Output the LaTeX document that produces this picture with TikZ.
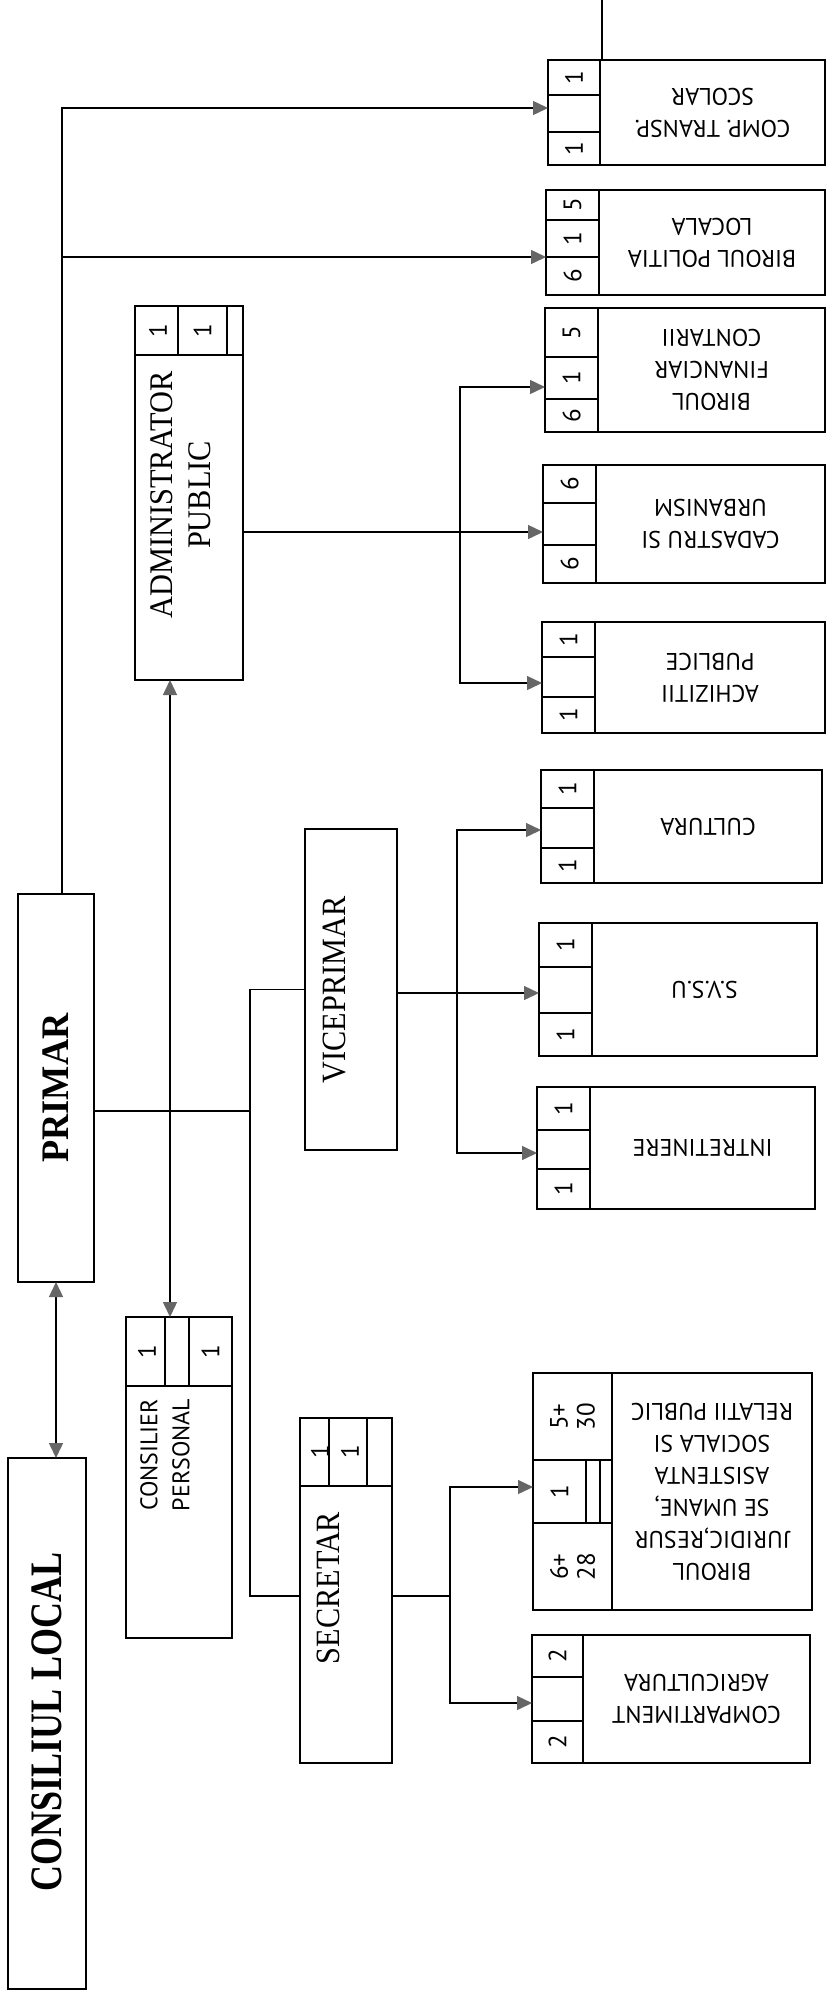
\documentclass[tikz,border=0pt]{standalone}
\usepackage{fontspec}
\setmainfont{Liberation Serif}
\newfontfamily\capf{PT Sans}
\usetikzlibrary{arrows.meta}
\begin{document}
\begin{tikzpicture}[x=1pt,y=-1pt,
  box/.style={draw, line width=1.5pt, rectangle, inner sep=0pt, outer sep=0pt},
  ln/.style={line width=1.4pt},
  mytip/.tip={Triangle[length=15pt,width=14pt,fill=black!60,color=black!60]},
  arr/.style={ln, -mytip},
  darr/.style={ln, mytip-mytip},
  numtxt/.style={font=\capf\fontsize{25}{27}\selectfont, rotate=90, inner sep=0pt, align=center},
  captxt/.style={font=\capf\fontsize{24}{32}\selectfont, rotate=180, inner sep=0pt, align=center},
  sertxt/.style={font=\fontsize{34}{38}\selectfont, rotate=90, inner sep=0pt, align=center},
  serbold/.style={font=\bfseries\fontsize{45}{50}\selectfont, rotate=90, inner sep=0pt, align=center}
]
\useasboundingbox (0,0) rectangle (826,1992);
\fill[white] (0,0) rectangle (826,1992);

% ---------- right column boxes ----------
% COMP TRANSP
\node[box, minimum width=277pt, minimum height=105pt] (COMP) at (686.5,112.5) {};
\draw[ln] (600,60) -- (600,165) (548,95) -- (600,95) (548,132) -- (600,132);
\node[numtxt] (cn1) at (574,77.5) {1};
\node[numtxt] (cn2) at (574,148.5) {1};
\node[captxt] (ccap) at (712.5,112.5) {COMP. TRANSP.\\SCOLAR};

% BIROUL POLITIA LOCALA
\node[box, minimum width=279pt, minimum height=105pt] (POL) at (685.5,242.5) {};
\draw[ln] (599,190) -- (599,295) (546,220) -- (599,220) (546,257) -- (599,257);
\node[numtxt] (pn1) at (572.5,205) {5};
\node[numtxt] (pn2) at (572.5,238.5) {1};
\node[numtxt] (pn3) at (572.5,276) {6};
\node[captxt] (pcap) at (712,242.5) {BIROUL POLITIA\\LOCALA};

% BIROUL FINANCIAR
\node[box, minimum width=280pt, minimum height=124pt] (FIN) at (685,370) {};
\draw[ln] (598,308) -- (598,432) (545,357) -- (598,357) (545,399) -- (598,399);
\node[numtxt] (fn1) at (571.5,332.5) {5};
\node[numtxt] (fn2) at (571.5,378) {1};
\node[numtxt] (fn3) at (571.5,415.5) {6};
\node[captxt] (fcap) at (711.5,370) {BIROUL\\FINANCIAR\\CONTARII};

% CADASTRU SI URBANISM
\node[box, minimum width=282pt, minimum height=118pt] (CAD) at (684,524) {};
\draw[ln] (596,465) -- (596,583) (543,503) -- (596,503) (543,545) -- (596,545);
\node[numtxt] (dn1) at (569.5,484) {6};
\node[numtxt] (dn2) at (569.5,564) {6};
\node[captxt] (dcap) at (710.5,524) {CADASTRU SI\\URBANISM};

% ACHIZITII PUBLICE
\node[box, minimum width=283pt, minimum height=111pt] (ACH) at (683.5,677.5) {};
\draw[ln] (595,622) -- (595,733) (542,657) -- (595,657) (542,697) -- (595,697);
\node[numtxt] (an1) at (568.5,639.5) {1};
\node[numtxt] (an2) at (568.5,715) {1};
\node[captxt] (acap) at (710,677.5) {ACHIZITII\\PUBLICE};

% CULTURA
\node[box, minimum width=281pt, minimum height=113pt] (CUL) at (681.5,826.5) {};
\draw[ln] (594,770) -- (594,883) (541,808) -- (594,808) (541,848) -- (594,848);
\node[numtxt] (un1) at (567.5,789) {1};
\node[numtxt] (un2) at (567.5,865.5) {1};
\node[captxt] (ucap) at (708,826.5) {CULTURA};

% S.V.S.U
\node[box, minimum width=278pt, minimum height=133pt] (SVSU) at (678,989.5) {};
\draw[ln] (592,923) -- (592,1056) (539,967) -- (592,967) (539,1013) -- (592,1013);
\node[numtxt] (sn1) at (565.5,945) {1};
\node[numtxt] (sn2) at (565.5,1034.5) {1};
\node[captxt] (scap) at (704.5,989.5) {S.V.S.U};

% INTRETINERE
\node[box, minimum width=278pt, minimum height=122pt] (INT) at (676,1148) {};
\draw[ln] (590,1087) -- (590,1209) (537,1130) -- (590,1130) (537,1169) -- (590,1169);
\node[numtxt] (in1) at (563.5,1108.5) {1};
\node[numtxt] (in2) at (563.5,1189) {1};
\node[captxt] (icap) at (702.5,1148) {INTRETINERE};

% BIROUL JURIDIC
\node[box, minimum width=279pt, minimum height=237pt] (JUR) at (672.5,1491.5) {};
\draw[ln] (612,1373) -- (612,1610) (533,1460) -- (612,1460) (533,1523) -- (612,1523)
          (586,1460) -- (586,1523) (600,1460) -- (600,1523);
\node[numtxt] (jn1) at (572.5,1416.5) {5+\\30};
\node[numtxt] (jn2) at (559.5,1491.5) {1};
\node[numtxt] (jn3) at (572.5,1566.5) {6+\\28};
\node[captxt] (jcap) at (712,1491.5) {BIROUL\\JURIDIC,RESUR\\SE UMANE,\\ASISTENTA\\SOCIALA SI\\RELATII PUBLIC};

% COMPARTIMENT AGRICULTURA
\node[box, minimum width=278pt, minimum height=128pt] (AGR) at (671,1699) {};
\draw[ln] (583,1635) -- (583,1763) (532,1677) -- (583,1677) (532,1721) -- (583,1721);
\node[numtxt] (gn1) at (557.5,1656) {2};
\node[numtxt] (gn2) at (557.5,1742) {2};
\node[captxt] (gcap) at (696.5,1699) {COMPARTIMENT\\AGRICULTURA};

% ---------- left / middle boxes ----------
% ADMINISTRATOR PUBLIC
\node[box, minimum width=108pt, minimum height=374pt] (ADM) at (189,493) {};
\draw[ln] (135,355) -- (243,355) (178,306) -- (178,355) (227,306) -- (227,355);
\node[numtxt] (mn1) at (158,330.5) {1};
\node[numtxt] (mn2) at (202.5,330.5) {1};
\node[sertxt, font=\fontsize{33}{38}\selectfont] (mcap) at (184,495)
  {\scalebox{0.92}[1]{\begin{tabular}{@{}c@{}}ADMINISTRATOR\\PUBLIC\end{tabular}}};

% VICEPRIMAR
\node[box, minimum width=92pt, minimum height=321pt] (VICE) at (351,989.5) {};
\node[sertxt] (vcap) at (334,990) {\scalebox{0.89}[1]{VICEPRIMAR}};

% SECRETAR
\node[box, minimum width=92pt, minimum height=345pt] (SEC) at (346,1590.5) {};
\draw[ln] (300,1486) -- (392,1486) (329,1418) -- (329,1486) (367,1418) -- (367,1486);
\node[numtxt] (en1) at (320,1452) {1};
\node[numtxt] (en2) at (350,1452) {1};
\node[sertxt] (ecap) at (328,1588) {\scalebox{0.89}[1]{SECRETAR}};

% PRIMAR
\node[box, minimum width=76pt, minimum height=388pt] (PRI) at (56,1088) {};
\node[serbold, font=\bfseries\fontsize{39}{44}\selectfont] (rcap) at (56,1088) {\scalebox{0.93}[1]{PRIMAR}};

% CONSILIER PERSONAL
\node[box, minimum width=106pt, minimum height=321pt] (CP) at (179,1477.5) {};
\draw[ln] (126,1386) -- (232,1386) (165,1317) -- (165,1386) (189,1317) -- (189,1386);
\node[numtxt] (on1) at (147,1351.5) {1};
\node[numtxt] (on2) at (210.5,1351.5) {1};
\node[captxt, rotate=-90] (ocap) at (165,1455) {CONSILIER\\PERSONAL};

% CONSILIUL LOCAL
\node[box, minimum width=78pt, minimum height=531pt] (CL) at (47,1723.5) {};
\node[serbold] (lcap) at (47,1722) {\scalebox{0.8}[1]{CONSILIUL LOCAL}};

% ---------- connectors ----------
\coordinate (trunk) at ([xshift=6pt]PRI.north);
\coordinate (compIn) at ([yshift=4.5pt]COMP.west);
\coordinate (polIn) at ([yshift=-14.5pt]POL.west);
\draw[arr] (trunk) |- (compIn);
\draw[arr] (trunk |- polIn) -- (polIn);
\coordinate (stubTop) at (602,0);
\draw[ln] (stubTop |- COMP.north) -- (stubTop);

% primar to viceprimar and secretar
\coordinate (pR) at ([yshift=-23pt]PRI.east);
\coordinate (busx) at (250,0);
\coordinate (secL) at ([yshift=-5.5pt]SEC.west);
\draw[ln] (pR) -- (pR -| busx);
\draw[ln] (VICE.west) -- (VICE.west -| busx) -- (secL -| busx) -- (secL);

% consiliu local - primar ; administrator - consilier
\draw[darr] (PRI.south) -- (PRI.south |- CL.north);
\draw[darr] ([xshift=-19pt]ADM.south) -- ([xshift=-9pt]CP.north);

% administrator to compartments
\coordinate (cadIn) at ([yshift=-8pt]CAD.west);
\coordinate (finIn) at ([yshift=-17pt]FIN.west);
\coordinate (achIn) at ([yshift=-5.5pt]ACH.west);
\coordinate (abx) at (460,0);
\draw[arr] (cadIn -| ADM.east) -- (cadIn);
\draw[arr] (cadIn -| abx) |- (finIn);
\draw[arr] (cadIn -| abx) |- (achIn);

% viceprimar to compartments
\coordinate (svIn) at ([yshift=-3.5pt]SVSU.west);
\coordinate (culIn) at ([yshift=-3.5pt]CUL.west);
\coordinate (intIn) at ([yshift=-5pt]INT.west);
\coordinate (vbx) at (457,0);
\draw[arr] (svIn -| VICE.east) -- (svIn);
\draw[arr] (svIn -| vbx) |- (culIn);
\draw[arr] (svIn -| vbx) |- (intIn);

% secretar to compartments
\coordinate (secR) at ([yshift=-5.5pt]SEC.east);
\coordinate (jurIn) at ([yshift=4.5pt]JUR.west);
\coordinate (agrIn) at ([yshift=-4pt]AGR.west);
\coordinate (sbx) at (450,0);
\draw[ln] (secR) -- (secR -| sbx);
\draw[arr] (secR -| sbx) |- (jurIn);
\draw[arr] (secR -| sbx) |- (agrIn);
\end{tikzpicture}
\end{document}
